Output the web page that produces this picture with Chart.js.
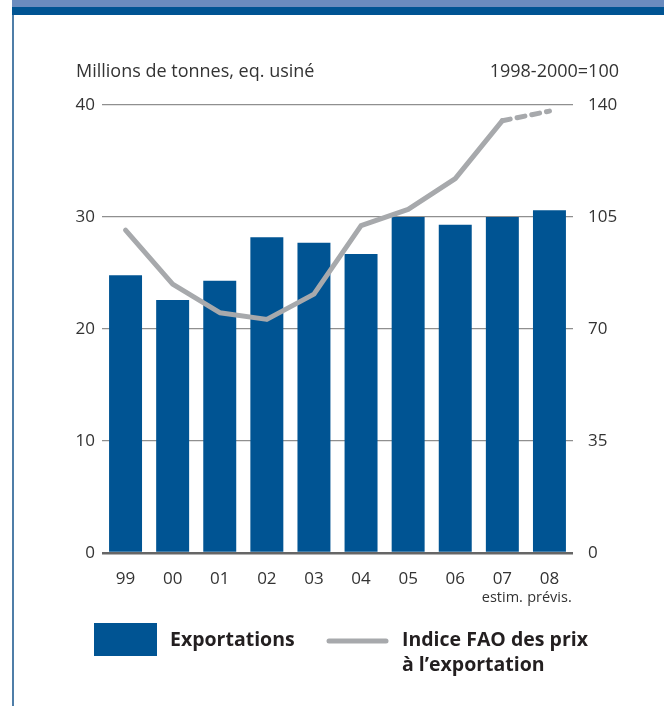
<!DOCTYPE html>
<html lang="fr">
<head>
    <meta charset="UTF-8">
    <title>Exportations</title>
    <script src="https://cdn.jsdelivr.net/npm/chart.js"></script>
    <style>
        body { margin: 0; background: #fff; }
        .frame { position: relative; width: 664px; height: 706px; overflow: hidden; }
        .bandLight { position: absolute; left: 12px; top: 0; width: 652px; height: 7px; background: #6b8cbf; }
        .bandDark { position: absolute; left: 12px; top: 7px; width: 652px; height: 8px; background: #005493; }
        .side { position: absolute; left: 12px; top: 15px; width: 2px; height: 691px; background: #4f7ea8; }
        canvas { position: absolute; left: 0; top: 0; }
    </style>
</head>
<body>
    <div class="frame">
        <div class="bandLight"></div>
        <div class="bandDark"></div>
        <div class="side"></div>
        <canvas id="chart" width="664" height="706"></canvas>
    </div>

    <script>
        // data
        const years = ['99', '00', '01', '02', '03', '04', '05', '06', '07', '08']
        const notes = ['', '', '', '', '', '', '', '', 'estim.', 'prévis.']
        const exportations = [24.8, 22.6, 24.3, 28.2, 27.7, 26.7, 30.0, 29.3, 30.0, 30.6]
        const priceIndex = [100.9, 84.0, 75.1, 73.0, 80.9, 102.3, 107.4, 117.0, 135.1, 138.1]
        const leftTicks = [0, 10, 20, 30, 40]
        const rightTicks = [0, 35, 70, 105, 140]

        const blue = '#005493'
        const grey = '#a7a9ac'
        const font = '"Open Sans", "DejaVu Sans", sans-serif'

        // text + legend drawn on the canvas
        const extras = {
            id: 'extras',
            afterDraw(chart) {
                const c = chart.ctx
                const x = chart.scales.x
                c.save()
                c.fillStyle = '#333'
                c.font = '18px ' + font
                c.textBaseline = 'middle'
                c.textAlign = 'left'
                c.fillText('Millions de tonnes, eq. usiné', 76, 72)
                c.textAlign = 'right'
                c.fillText('1998-2000=100', 619, 72)

                c.font = '14.5px ' + font
                c.textAlign = 'center'
                notes.forEach(function (n, i) {
                    if (n) c.fillText(n, x.getPixelForValue(i), 598)
                })

                // legend
                c.fillStyle = blue
                c.fillRect(94, 623, 63, 33)
                c.strokeStyle = grey
                c.lineWidth = 5
                c.lineCap = 'round'
                c.beginPath()
                c.moveTo(329, 641)
                c.lineTo(386, 641)
                c.stroke()
                c.fillStyle = '#231f20'
                c.font = 'bold 19.5px ' + font
                c.textAlign = 'left'
                c.fillText('Exportations', 170, 640)
                c.fillText('Indice FAO des prix', 402, 640)
                c.fillText('à l\u2019exportation', 402, 665)
                c.restore()
            }
        }

        new Chart(document.getElementById('chart'), {
            data: {
                labels: years,
                datasets: [{
                    type: 'line',
                    label: 'Indice FAO des prix à l\u2019exportation',
                    data: priceIndex,
                    yAxisID: 'y2',
                    borderColor: grey,
                    borderWidth: 5,
                    borderCapStyle: 'round',
                    borderJoinStyle: 'round',
                    pointRadius: 0,
                    tension: 0,
                    segment: {
                        borderDash: ctx => ctx.p1DataIndex === years.length - 1 ? [8, 7] : undefined
                    }
                }, {
                    type: 'bar',
                    label: 'Exportations',
                    data: exportations,
                    yAxisID: 'y',
                    backgroundColor: blue,
                    barPercentage: 0.7,
                    categoryPercentage: 1
                }]
            },
            options: {
                responsive: false,
                animation: false,
                layout: { padding: { top: 105, bottom: 0, left: 0, right: 0 } },
                plugins: { legend: { display: false }, tooltip: { enabled: false } },
                scales: {
                    x: {
                        grid: { display: false },
                        border: { display: false },
                        ticks: { color: '#333', font: { family: font, size: 17 }, padding: 8 },
                        afterFit(s) { s.height = 153 }
                    },
                    y: {
                        position: 'left',
                        min: 0,
                        max: 40,
                        afterBuildTicks(s) { s.ticks = leftTicks.map(v => ({ value: v })) },
                        afterFit(s) { s.width = 102 },
                        border: { display: false },
                        grid: {
                            drawTicks: false,
                            color: ctx => ctx.tick.value === 0 ? '#666' : '#8f8f8f',
                            lineWidth: ctx => ctx.tick.value === 0 ? 2.5 : 1.2
                        },
                        ticks: { color: '#333', font: { family: font, size: 17 }, padding: 7 }
                    },
                    y2: {
                        position: 'right',
                        min: 0,
                        max: 140,
                        afterBuildTicks(s) { s.ticks = rightTicks.map(v => ({ value: v })) },
                        afterFit(s) { s.width = 91 },
                        border: { display: false },
                        grid: { display: false, drawTicks: false },
                        ticks: { color: '#333', font: { family: font, size: 17 }, padding: 15 }
                    }
                }
            },
            plugins: [extras]
        })
    </script>
</body>
</html>
